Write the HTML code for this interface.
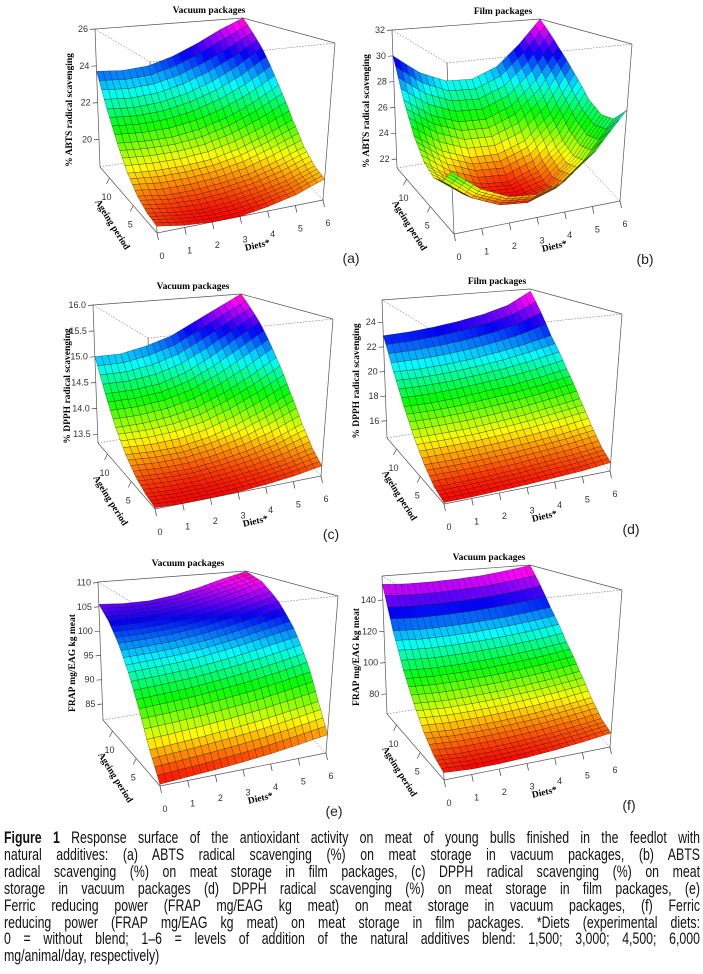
<!DOCTYPE html>
<html><head><meta charset="utf-8">
<style>
body{margin:0;background:#fff;width:703px;height:974px;overflow:hidden;position:relative;font-family:"Liberation Sans",sans-serif;}
#fig{position:absolute;left:0;top:0;}
#caption{position:absolute;left:4px;top:830px;width:960px;font-size:17px;line-height:16.9px;color:#111;transform:scaleX(0.725);transform-origin:0 0;}
#caption div{text-align:justify;text-align-last:justify;white-space:nowrap;}
#caption div.last{text-align-last:left;}
</style></head><body>
<svg id="fig" width="703" height="820" xmlns="http://www.w3.org/2000/svg"></svg>
<div id="caption">
<div><b>Figure 1</b> Response surface of the antioxidant activity on meat of young bulls finished in the feedlot with</div>
<div>natural additives: (a) ABTS radical scavenging (%) on meat storage in vacuum packages, (b) ABTS</div>
<div>radical scavenging (%) on meat storage in film packages, (c) DPPH radical scavenging (%) on meat</div>
<div>storage in vacuum packages (d) DPPH radical scavenging (%) on meat storage in film packages, (e)</div>
<div>Ferric reducing power (FRAP mg/EAG kg meat) on meat storage in vacuum packages, (f) Ferric</div>
<div>reducing power (FRAP mg/EAG kg meat) on meat storage in film packages. *Diets (experimental diets:</div>
<div>0 = without blend; 1–6 = levels of addition of the natural additives blend: 1,500; 3,000; 4,500; 6,000</div>
<div class="last">mg/animal/day, respectively)</div>
</div>
<script>
// shared axes
const diets = [0,1,2,3,4,5,6];
const ages = [0,2,4,6,8,10,12];
const dietTicks = [0,1,2,3,4,5,6];
const ageTicks = [5,10];
// panel (a) ABTS vacuum
const zA = [
 [18.8,18.6,18.5,18.5,18.7,19.0,19.5],
 [18.9,18.7,18.6,18.7,18.9,19.2,19.7],
 [19.2,19.0,19.0,19.1,19.3,19.7,20.2],
 [19.8,19.7,19.7,19.8,20.1,20.6,21.2],
 [20.8,20.7,20.7,20.9,21.3,21.9,22.7],
 [22.1,22.0,22.1,22.4,22.9,23.6,24.5],
 [23.7,23.6,23.7,24.1,24.7,25.4,26.0]];
const ticksA = [20,22,24,26];
const limA = [18.5,26];
// panel (b) ABTS film
const zB = [
 [25.2,23.8,23.0,22.8,23.4,25.0,27.5],
 [24.0,22.6,21.8,21.6,22.2,23.8,26.4],
 [23.6,22.2,21.5,21.4,21.8,23.5,26.2],
 [24.0,22.6,21.8,21.6,22.3,24.0,26.8],
 [25.2,23.8,23.0,22.9,23.6,25.4,28.3],
 [27.2,25.8,25.0,24.9,25.7,27.5,30.0],
 [30.0,28.5,27.6,27.5,28.3,30.0,32.0]];
const ticksB = [22,24,26,28,30,32];
const limB = [21.3,32];
// panel (c) DPPH vacuum
const zC = [
 [13.35,13.33,13.33,13.34,13.37,13.42,13.5],
 [13.4,13.37,13.37,13.4,13.45,13.53,13.65],
 [13.5,13.47,13.47,13.52,13.6,13.73,13.92],
 [13.7,13.67,13.68,13.76,13.9,14.1,14.35],
 [14.0,14.0,14.05,14.15,14.35,14.6,14.9],
 [14.45,14.45,14.5,14.65,14.9,15.2,15.5],
 [15.0,15.0,15.1,15.25,15.5,15.75,16.0]];
const ticksC = [13.5,14.0,14.5,15.0,15.5,16.0];
const limC = [13.33,16.0];
// panel (d) DPPH film
const zD = [
 [14.7,14.7,14.75,14.8,14.9,15.0,15.2],
 [15.0,15.0,15.05,15.15,15.3,15.45,15.7],
 [15.8,15.8,15.85,15.95,16.1,16.3,16.6],
 [17.0,17.0,17.05,17.2,17.4,17.7,18.0],
 [18.6,18.6,18.7,18.9,19.1,19.4,19.8],
 [20.6,20.6,20.7,20.9,21.2,21.6,22.1],
 [22.9,23.0,23.2,23.5,23.9,24.5,25.6]];
const ticksD = [16,18,20,22,24];
const limD = [14.6,25.8];
// panel (e) FRAP vacuum
const zE = [
 [82,82.3,82.6,83,83.5,84.2,85],
 [86,86.3,86.7,87.2,87.8,88.6,89.5],
 [91.5,91.8,92.2,92.8,93.5,94.4,95.5],
 [96.5,96.8,97.2,97.9,98.8,99.9,101],
 [100.5,100.7,101.1,101.8,102.8,104,105.4],
 [103.5,103.5,103.8,104.5,105.6,107,108.6],
 [105.5,105.2,105.3,106,107.2,108.7,110]];
const ticksE = [85,90,95,100,105,110];
const limE = [81.7,110.1];
// panel (f) FRAP (film)
const zF = [
 [71,70,70,70.5,71.5,73,75],
 [74,73,73,73.5,74.5,76,78],
 [81,80,80,80.5,81.5,83,85],
 [92,91,91,91.5,92.5,94,96],
 [106,105,105,105.5,106.5,108,110],
 [125,124,124,124.5,125.5,127,129],
 [150,149,149,149.5,150.5,152.5,155]];
const ticksF = [80,100,120,140];
const limF = [67.2,155.3];

const panels = [
 {id:'a',z:zA,ticks:ticksA,lim:limA,ox:0,oy:0,title:'Vacuum packages',tx:209,ztitle:'% ABTS radical scavenging',lx:351},
 {id:'b',z:zB,ticks:ticksB,lim:limB,ox:297,oy:1,title:'Film packages',tx:206,ztitle:'% ABTS radical scavenging',lx:348},
 {id:'c',z:zC,ticks:ticksC,lim:limC,ox:-2,oy:276,title:'Vacuum packages',tx:195,ztitle:'% DPPH radical scavenging',lx:333},
 {id:'d',z:zD,ticks:ticksD,lim:limD,ox:287,oy:271,title:'Film packages',tx:210,ztitle:'% DPPH radical scavenging',lx:344},
 {id:'e',z:zE,ticks:ticksE,lim:limE,ox:3,oy:553,title:'Vacuum packages',tx:185,ztitle:'FRAP mg/EAG kg meat',lx:331},
 {id:'f',z:zF,ticks:ticksF,lim:limF,ox:287,oy:547,title:'Vacuum packages',tx:202,ztitle:'FRAP mg/EAG kg meat',lx:342}
];
// box corner geometry (local screen coords)
const B00=[157,233],B10=[323,200],B01=[100,167],B11=[266,140];
const T00=[150,62],T10=[335,43],T01=[95,29],T11=[243,18];
function lerp(a,b,t){return [a[0]+(b[0]-a[0])*t,a[1]+(b[1]-a[1])*t];}
function proj(u,v,w){
  const b=lerp(lerp(B00,B10,u),lerp(B01,B11,u),v);
  const t=lerp(lerp(T00,T10,u),lerp(T01,T11,u),v);
  return lerp(b,t,w);
}
const NS='http://www.w3.org/2000/svg';
const svg=document.getElementById('fig');
function el(tag,attrs,parent){const e=document.createElementNS(NS,tag);for(const k in attrs)e.setAttribute(k,attrs[k]);parent.appendChild(e);return e;}
function xScale(d){return (d-diets[0])/(diets[diets.length-1]-diets[0]);}
function yScale(a){return (a-ages[0])/(ages[ages.length-1]-ages[0]);}

panels.forEach(p=>{
  const g=el('g',{transform:`translate(${p.ox},${p.oy})`},svg);
  
  
  const zs=v=>(v-p.lim[0])/(p.lim[1]-p.lim[0]);
  const P=(u,v,w)=>proj(u,v,w).map(n=>n.toFixed(1)).join(',');
  const bl=el('g',{stroke:'#555','stroke-width':0.7,fill:'none'},g);
  
  
  [[[0,1,0],[0,1,1]],[[1,0,0],[1,0,1]],[[0,0,0],[0,1,0]],[[0,0,0],[1,0,0]],[[0,1,1],[1,1,1]],[[1,1,1],[1,0,1]],[[0,0,0],[0,0,1]]].forEach(s=>{
    el('polyline',{points:P(...s[0])+' '+P(...s[1])},bl);
  });
  [[[0,1,1],[0,0,1]],[[0,0,1],[1,0,1]],[[0,1,0],[1,1,0]],[[1,1,0],[1,0,0]],[[1,1,0],[1,1,1]]].forEach(s=>{
    el('polyline',{points:P(...s[0])+' '+P(...s[1]),'stroke-dasharray':'1.5,1.5','stroke-width':0.5},bl);
  });
  const sg=el('g',{stroke:'#111','stroke-width':0.35,'stroke-opacity':0.8},g);
  
  
  const zmin=Math.min(...p.z.flat()),zmax=Math.max(...p.z.flat());
  const S=4,facets=[];
  const zAt=(j,i,fy,fx)=>{const r0=p.z[j],r1=p.z[Math.min(j+1,ages.length-1)];
    const i1=Math.min(i+1,diets.length-1);
    const a=r0[i]+(r0[i1]-r0[i])*fx,b=r1[i]+(r1[i1]-r1[i])*fx;return a+(b-a)*fy;};
  for(let j=0;j<ages.length-1;j++)for(let i=0;i<diets.length-1;i++){
    for(let sj=0;sj<S;sj++)for(let si=0;si<S;si++){
      const pts=[[si,sj],[si+1,sj],[si+1,sj+1],[si,sj+1]].map(([a,b])=>{
        const fx=a/S,fy=b/S;
        const d=diets[i]+(diets[i+1]-diets[i])*fx, ag=ages[j]+(ages[j+1]-ages[j])*fy;
        const zv=zAt(j,i,fy,fx);
        return {u:xScale(d),v:yScale(ag),z:zv};
      });
      const za=pts.reduce((s,q)=>s+q.z,0)/4;
      const depth=pts.reduce((s,q)=>s+q.u+q.v,0);
      facets.push({pts,za,depth});
    }
  }
  facets.sort((a,b)=>b.depth-a.depth);
  facets.forEach(f=>{
    const t=(f.za-zmin)/(zmax-zmin);
    const hue=t*318;
    const poly=el('polygon',{points:f.pts.map(q=>P(q.u,q.v,zs(q.z))).join(' '),fill:`hsl(${hue.toFixed(0)},100%,50%)`},sg);
    
    
  });
  const zt=el('g',{'font-size':'9','fill':'#333','font-family':'Liberation Sans,sans-serif'},g);
  
  
  p.ticks.forEach(tv=>{
    const [x,y]=proj(0,1,zs(tv));
    el('line',{x1:x,y1:y,x2:x-5,y2:y+0.5,stroke:'#444','stroke-width':0.7},zt);
    const t=el('text',{x:x-7,y:y+3,'text-anchor':'end'},zt);
    t.textContent=(p.id==='c')?tv.toFixed(1):tv;
  });
  const dt=el('g',{'font-size':'9','fill':'#333','font-family':'Liberation Sans,sans-serif'},g);
  
  
  dietTicks.forEach(dv=>{
    const [x,y]=proj(xScale(dv),0,0);
    el('line',{x1:x,y1:y,x2:x+1.5,y2:y+7,stroke:'#444','stroke-width':0.7},dt);
    const t=el('text',{x:x+5,y:y+26,'text-anchor':'middle'},dt);
    t.textContent=dv;
  });
  const at=el('g',{'font-size':'9','fill':'#333','font-family':'Liberation Sans,sans-serif'},g);
  
  
  ageTicks.forEach(av=>{
    const [x,y]=proj(0,yScale(av),0);
    el('line',{x1:x,y1:y,x2:x-3,y2:y+6,stroke:'#444','stroke-width':0.7},at);
    const t=el('text',{x:x-3,y:y+22,'text-anchor':'middle'},at);
    t.textContent=av;
  });
  const tt=el('text',{x:p.tx,y:13,'text-anchor':'middle','font-size':'9.5','font-weight':'bold','font-family':'Liberation Serif,serif'},g);
  tt.textContent=p.title;
  
  
  const zl=el('text',{x:0,y:0,transform:'translate(72,110) rotate(-90)','text-anchor':'middle','font-size':'9.5','font-weight':'bold','font-family':'Liberation Serif,serif'},g);
  zl.textContent=p.ztitle;
  
  
  const al=el('text',{x:0,y:0,transform:'translate(110,226) rotate(58)','text-anchor':'middle','font-size':'9.5','font-weight':'bold','font-family':'Liberation Serif,serif'},g);
  al.textContent='Ageing period';
  
  
  const dl=el('text',{x:0,y:0,transform:'translate(258,248) rotate(-13)','text-anchor':'middle','font-size':'9.5','font-weight':'bold','font-family':'Liberation Serif,serif'},g);
  dl.textContent='Diets*';
  
  
  const pl=el('text',{x:p.lx,y:263,'text-anchor':'middle','font-size':'14','font-family':'Liberation Sans,sans-serif','fill':'#222'},g);
  pl.textContent='('+p.id+')';
  
  
});
</script>
</body></html>
